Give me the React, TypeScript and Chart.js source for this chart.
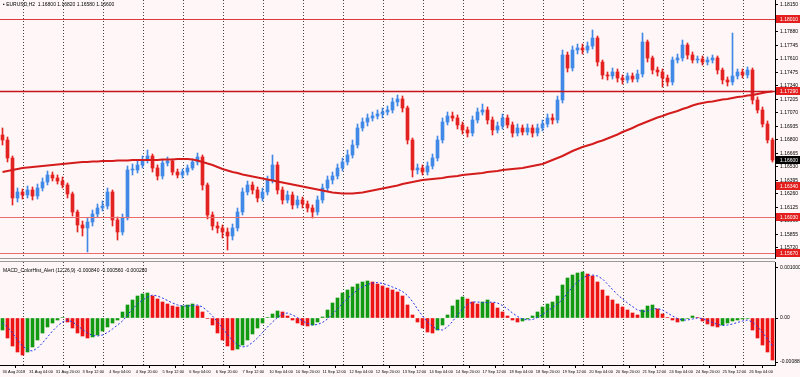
import React, { useEffect, useRef } from 'react';
import { Chart, registerables } from 'chart.js';

Chart.register(...registerables);

// ---------- data ----------
const symbolTitle = 'EURUSD,H2  1.16800 1.16820 1.16580 1.16600';
const macdTitle = 'MACD_ColorHist_Alert (12,26,9) -0.000840 -0.000560 -0.000280';
const firstOpen = 1.1685;
const HOURS_PER_BAR = 3;

const closes = [
  1.1680, 1.1662, 1.1622, 1.1628, 1.1625, 1.1630, 1.1624, 1.1632, 1.1638, 1.1645,
  1.1642, 1.1639, 1.1635, 1.1626, 1.1608, 1.1595, 1.1592, 1.1598, 1.1606, 1.1612,
  1.1614, 1.1628, 1.1600, 1.1588, 1.1602, 1.1650, 1.1650, 1.1655, 1.1660, 1.1664,
  1.1652, 1.1644, 1.1657, 1.1659, 1.1648, 1.1645, 1.1648, 1.1652, 1.1658, 1.1663,
  1.1635, 1.1605, 1.1594, 1.1592, 1.1588, 1.1584, 1.1592, 1.1608, 1.1628, 1.1635,
  1.1630, 1.1622, 1.1628, 1.1640, 1.1655, 1.1630, 1.1620, 1.1625, 1.1615, 1.1620,
  1.1616, 1.1612, 1.1608, 1.1620, 1.1632, 1.1640, 1.1644, 1.1652, 1.1658, 1.1665,
  1.1675, 1.1692, 1.1698, 1.1702, 1.1704, 1.1706, 1.1708, 1.1710, 1.1718, 1.1721,
  1.1712, 1.1680, 1.1650, 1.1652, 1.1648, 1.1654, 1.1662, 1.1680, 1.1698, 1.1704,
  1.1702, 1.1695, 1.1690, 1.1687, 1.1700, 1.1708, 1.1710, 1.1700, 1.1690, 1.1694,
  1.1702, 1.1695, 1.1687, 1.1692, 1.1688, 1.1692, 1.1687, 1.1692, 1.1696, 1.1702,
  1.1700, 1.1720, 1.1765, 1.1752, 1.1770, 1.1772, 1.1770, 1.1774, 1.1782, 1.1758,
  1.1745, 1.1744, 1.1748, 1.1742, 1.1740, 1.1744, 1.1741, 1.1746, 1.1778, 1.1762,
  1.1750, 1.1748, 1.1742, 1.1738, 1.1760, 1.1762, 1.1775, 1.1765, 1.1760, 1.1761,
  1.1758, 1.1760, 1.1762, 1.1750, 1.1740, 1.1738, 1.1744, 1.1748, 1.1745, 1.1750,
  1.1720, 1.1710, 1.1696, 1.1680, 1.1660,
];

const highs = [
  1.1692, 1.1683, 1.1664, 1.1632, 1.1631, 1.1634, 1.1633, 1.1636, 1.1642, 1.1649,
  1.1648, 1.1645, 1.1643, 1.1637, 1.1628, 1.1610, 1.1599, 1.1602, 1.1610, 1.1616,
  1.1619, 1.1632, 1.1630, 1.1603, 1.1606, 1.1654, 1.1656, 1.1659, 1.1664, 1.1670,
  1.1666, 1.1655, 1.1660, 1.1663, 1.1661, 1.1651, 1.1651, 1.1655, 1.1661, 1.1667,
  1.1665, 1.1637, 1.1608, 1.1598, 1.1595, 1.1592, 1.1596, 1.1612, 1.1632, 1.1639,
  1.1638, 1.1633, 1.1632, 1.1644, 1.1665, 1.1658, 1.1633, 1.1629, 1.1628, 1.1624,
  1.1623, 1.1619, 1.1615, 1.1624, 1.1636, 1.1644, 1.1648, 1.1656, 1.1662, 1.1670,
  1.1680, 1.1696, 1.1702, 1.1706, 1.1708, 1.1710, 1.1712, 1.1714, 1.1722, 1.1725,
  1.1724, 1.1714, 1.1682, 1.1656, 1.1655, 1.1658, 1.1666, 1.1684, 1.1702, 1.1708,
  1.1708, 1.1705, 1.1698, 1.1693, 1.1704, 1.1712, 1.1716, 1.1713, 1.1703, 1.1698,
  1.1706, 1.1705, 1.1698, 1.1696, 1.1695, 1.1696, 1.1695, 1.1696, 1.1700, 1.1706,
  1.1706, 1.1724, 1.1770, 1.1768, 1.1774, 1.1776, 1.1776, 1.1778, 1.1790, 1.1784,
  1.1760, 1.1748, 1.1752, 1.1751, 1.1745, 1.1747, 1.1747, 1.1750, 1.1787, 1.1780,
  1.1764, 1.1753, 1.1751, 1.1745, 1.1763, 1.1766, 1.1780, 1.1777, 1.1768, 1.1764,
  1.1764, 1.1763, 1.1765, 1.1764, 1.1752, 1.1743, 1.1787, 1.1751, 1.1751, 1.1753,
  1.1752, 1.1723, 1.1713, 1.1699, 1.1682,
];

const lows = [
  1.1675, 1.1658, 1.1615, 1.1618, 1.1621, 1.1622, 1.1620, 1.1621, 1.1629, 1.1635,
  1.1639, 1.1636, 1.1632, 1.1622, 1.1604, 1.1588, 1.1584, 1.1568, 1.1594, 1.1603,
  1.1609, 1.1611, 1.1594, 1.1580, 1.1585, 1.1600, 1.1645, 1.1647, 1.1652, 1.1657,
  1.1648, 1.1640, 1.1641, 1.1654, 1.1645, 1.1642, 1.1642, 1.1645, 1.1650, 1.1655,
  1.1630, 1.1601, 1.1590, 1.1587, 1.1582, 1.1570, 1.1580, 1.1589, 1.1605, 1.1625,
  1.1626, 1.1618, 1.1619, 1.1625, 1.1637, 1.1626, 1.1616, 1.1617, 1.1611, 1.1612,
  1.1612, 1.1608, 1.1602, 1.1605, 1.1617, 1.1629, 1.1636, 1.1641, 1.1649, 1.1655,
  1.1662, 1.1672, 1.1689, 1.1694, 1.1699, 1.1701, 1.1702, 1.1705, 1.1707, 1.1714,
  1.1708, 1.1676, 1.1643, 1.1646, 1.1645, 1.1645, 1.1651, 1.1659, 1.1677, 1.1695,
  1.1699, 1.1691, 1.1686, 1.1683, 1.1684, 1.1697, 1.1705, 1.1696, 1.1685, 1.1687,
  1.1691, 1.1692, 1.1683, 1.1684, 1.1685, 1.1685, 1.1683, 1.1684, 1.1689, 1.1693,
  1.1696, 1.1697, 1.1717, 1.1748, 1.1749, 1.1766, 1.1766, 1.1767, 1.1771, 1.1754,
  1.1741, 1.1740, 1.1741, 1.1738, 1.1736, 1.1737, 1.1738, 1.1738, 1.1743, 1.1758,
  1.1746, 1.1744, 1.1733, 1.1734, 1.1735, 1.1757, 1.1759, 1.1761, 1.1757, 1.1757,
  1.1755, 1.1755, 1.1757, 1.1746, 1.1736, 1.1734, 1.1735, 1.1741, 1.1742, 1.1742,
  1.1716, 1.1707, 1.1693, 1.1677, 1.1658,
];

const maValues = [
  1.1648, 1.1649, 1.1650, 1.1651, 1.1652, 1.16525, 1.1653, 1.16535, 1.1654, 1.16545,
  1.1655, 1.16555, 1.1656, 1.16565, 1.1657, 1.16575, 1.1658, 1.1658, 1.16585, 1.16585,
  1.1659, 1.1659, 1.1659, 1.16595, 1.16595, 1.16595, 1.1660, 1.1660, 1.1660, 1.1660,
  1.1660, 1.1660, 1.16605, 1.16605, 1.16605, 1.1661, 1.1661, 1.1661, 1.16605, 1.16595,
  1.1658, 1.16565, 1.1655, 1.1653, 1.1651, 1.16495, 1.1648, 1.1647, 1.16455, 1.16445,
  1.16435, 1.16425, 1.16415, 1.16405, 1.16395, 1.16385, 1.16375, 1.16365, 1.16355, 1.16345,
  1.16335, 1.16325, 1.16315, 1.16305, 1.16295, 1.16285, 1.16275, 1.1627, 1.16265, 1.16265,
  1.16265, 1.1627, 1.16275, 1.16285, 1.16295, 1.16305, 1.16315, 1.16325, 1.16335, 1.16345,
  1.1636, 1.1637, 1.1638, 1.1639, 1.1640, 1.16405, 1.1641, 1.16415, 1.1642, 1.1643,
  1.16435, 1.1644, 1.1645, 1.16455, 1.1646, 1.16465, 1.1647, 1.1648, 1.16485, 1.1649,
  1.1650, 1.16505, 1.1651, 1.16515, 1.1652, 1.1653, 1.1654, 1.1655, 1.1656, 1.1658,
  1.1660, 1.1662, 1.1664, 1.16665, 1.1669, 1.1671, 1.1673, 1.16745, 1.1676, 1.1678,
  1.16795, 1.16815, 1.16835, 1.16855, 1.1688, 1.1690, 1.1692, 1.16945, 1.16965, 1.16985,
  1.17005, 1.17025, 1.1704, 1.1706, 1.17075, 1.1709, 1.1711, 1.17125, 1.17145, 1.1716,
  1.1717, 1.1718, 1.17185, 1.17195, 1.17205, 1.1721, 1.1722, 1.1723, 1.17235, 1.17245,
  1.1725, 1.1726, 1.1727, 1.1728, 1.17285,
];

const macdHist = [
  -0.00024, -0.00040, -0.00056, -0.00068, -0.00074, -0.00068, -0.00058, -0.00044, -0.00030, -0.00018,
  -0.00010, -0.00004, 0.00001, -0.00008, -0.00020, -0.00030, -0.00036, -0.00040, -0.00038, -0.00034,
  -0.00026, -0.00018, -0.00010, -0.00004, 0.00012, 0.00026, 0.00036, 0.00044, 0.00048, 0.00050,
  0.00044, 0.00038, 0.00032, 0.00028, 0.00024, 0.00022, 0.00024, 0.00026, 0.00028, 0.00024,
  0.00012, -0.00001, -0.00014, -0.00030, -0.00044, -0.00056, -0.00064, -0.00062, -0.00054, -0.00044,
  -0.00032, -0.00020, -0.00010, 0.00001, 0.00008, 0.00014, 0.00012, 0.00004, -0.00004, -0.00010,
  -0.00014, -0.00016, -0.00014, -0.00008, 0.00002, 0.00016, 0.00030, 0.00040, 0.00050, 0.00056,
  0.00062, 0.00068, 0.00072, 0.00074, 0.00072, 0.00068, 0.00064, 0.00060, 0.00056, 0.00052,
  0.00044, 0.00026, 0.00006, -0.00008, -0.00020, -0.00028, -0.00030, -0.00024, -0.00014, 0.00006,
  0.00024, 0.00036, 0.00042, 0.00038, 0.00032, 0.00028, 0.00032, 0.00036, 0.00030, 0.00020,
  0.00012, 0.00004, -0.00004, -0.00008, -0.00006, -0.00002, 0.00004, 0.00012, 0.00022, 0.00028,
  0.00032, 0.00044, 0.00066, 0.00080, 0.00086, 0.00090, 0.00092, 0.00088, 0.00084, 0.00072,
  0.00056, 0.00044, 0.00036, 0.00028, 0.00022, 0.00016, 0.00010, 0.00006, 0.00016, 0.00024,
  0.00026, 0.00018, 0.00008, 0.00001, -0.00004, -0.00008, -0.00006, -0.00001, 0.00004, 0.00001,
  -0.00006, -0.00012, -0.00016, -0.00018, -0.00014, -0.00010, -0.00006, -0.00004, -0.00002, -0.00001,
  -0.00024, -0.00040, -0.00054, -0.00068, -0.00084,
];

const macdSignal = [
  -0.00010, -0.00018, -0.00030, -0.00044, -0.00056, -0.00064, -0.00066, -0.00060, -0.00050, -0.00038,
  -0.00026, -0.00016, -0.00008, -0.00004, -0.00008, -0.00015, -0.00023, -0.00030, -0.00035, -0.00036,
  -0.00034, -0.00029, -0.00022, -0.00014, -0.00006, 0.00006, 0.00018, 0.00028, 0.00036, 0.00042,
  0.00046, 0.00044, 0.00040, 0.00035, 0.00030, 0.00026, 0.00024, 0.00024, 0.00025, 0.00026,
  0.00022, 0.00014, 0.00004, -0.00008, -0.00020, -0.00033, -0.00045, -0.00054, -0.00058, -0.00056,
  -0.00049, -0.00040, -0.00029, -0.00018, -0.00008, 0.00001, 0.00008, 0.00010, 0.00006, 0.00001,
  -0.00006, -0.00011, -0.00014, -0.00013, -0.00009, -0.00002, 0.00008, 0.00018, 0.00029, 0.00039,
  0.00048, 0.00056, 0.00062, 0.00067, 0.00070, 0.00071, 0.00069, 0.00066, 0.00062, 0.00058,
  0.00053, 0.00045, 0.00033, 0.00018, 0.00004, -0.00008, -0.00017, -0.00023, -0.00024, -0.00018,
  -0.00007, 0.00006, 0.00018, 0.00027, 0.00032, 0.00032, 0.00031, 0.00031, 0.00032, 0.00030,
  0.00025, 0.00018, 0.00010, 0.00003, -0.00002, -0.00004, -0.00003, 0.00001, 0.00007, 0.00014,
  0.00021, 0.00028, 0.00037, 0.00050, 0.00062, 0.00072, 0.00080, 0.00085, 0.00086, 0.00084,
  0.00078, 0.00068, 0.00057, 0.00047, 0.00038, 0.00030, 0.00023, 0.00016, 0.00013, 0.00014,
  0.00018, 0.00019, 0.00016, 0.00010, 0.00004, -0.00001, -0.00004, -0.00004, -0.00002, 0.00000,
  -0.00001, -0.00005, -0.00009, -0.00013, -0.00015, -0.00014, -0.00012, -0.00009, -0.00006, -0.00004,
  -0.00008, -0.00017, -0.00029, -0.00042, -0.00056,
];

const timeLabels = [
  '30 Aug 2018', '31 Aug 04:00', '31 Aug 20:00', '3 Sep 12:00', '4 Sep 04:00', '4 Sep 20:00',
  '5 Sep 12:00', '6 Sep 04:00', '6 Sep 20:00', '7 Sep 12:00', '10 Sep 04:00', '10 Sep 20:00',
  '11 Sep 12:00', '12 Sep 04:00', '12 Sep 20:00', '13 Sep 12:00', '14 Sep 04:00', '14 Sep 20:00',
  '17 Sep 12:00', '18 Sep 04:00', '18 Sep 20:00', '19 Sep 12:00', '20 Sep 04:00', '20 Sep 20:00',
  '21 Sep 12:00', '24 Sep 04:00', '24 Sep 20:00', '25 Sep 12:00', '26 Sep 04:00',
];
const labelStepHours = 16;
const firstMidnightHour = 12;
const dayCount = 19;

const priceTicks = [
  1.18150, 1.18015, 1.17880, 1.17745, 1.17610, 1.17475, 1.17340, 1.17205, 1.17070, 1.16935,
  1.16800, 1.16665, 1.16530, 1.16395, 1.16260, 1.16125, 1.15990, 1.15855, 1.15720,
];
const priceMin = 1.1561;
const priceMax = 1.1820;

const levelLines = [
  { price: 1.1801, color: '#e03a3a', width: 1 },
  { price: 1.1729, color: '#c8141e', width: 1.5 },
  { price: 1.1603, color: '#ec6c6c', width: 1 },
  { price: 1.1567, color: '#ec6c6c', width: 1 },
];
const levelLabels = [1.1801, 1.1729, 1.1634, 1.1603, 1.1567];
const currentPrice = 1.1660;

const macdTicks = [0.001, 0, -0.00088];
const macdMin = -0.00094;
const macdMax = 0.00112;

// ---------- styles ----------
const BG = '#fff7f7';
const UP = '#4189e6';
const DOWN = '#e32222';
const HIST_UP = '#119a11';
const HIST_DOWN = '#ec1414';
const FONT = '"Liberation Sans Narrow", "Liberation Sans", Arial, sans-serif';

const xMin = -HOURS_PER_BAR / 2;
const xMax = (closes.length - 1) * HOURS_PER_BAR + HOURS_PER_BAR / 2;
const barHours = closes.map((_, i) => i * HOURS_PER_BAR);
const separatorHours = Array.from({ length: dayCount }, (_, k) => firstMidnightHour + 24 * k);

const bgPlugin = {
  id: 'bg',
  beforeDraw(chart: any) {
    const { ctx, width, height } = chart;
    ctx.save();
    ctx.fillStyle = BG;
    ctx.fillRect(0, 0, width, height);
    ctx.restore();
  },
};

const separatorsPlugin = {
  id: 'separators',
  beforeDatasetsDraw(chart: any) {
    const { ctx, chartArea, scales } = chart;
    ctx.save();
    ctx.strokeStyle = '#444';
    ctx.lineWidth = 1;
    ctx.setLineDash([1, 2]);
    for (const h of separatorHours) {
      const px = Math.round(scales.x.getPixelForValue(h)) + 0.5;
      ctx.beginPath();
      ctx.moveTo(px, chartArea.top);
      ctx.lineTo(px, chartArea.bottom);
      ctx.stroke();
    }
    ctx.restore();
  },
};

const levelsPlugin = {
  id: 'levels',
  afterDatasetsDraw(chart: any) {
    const { ctx, chartArea, scales } = chart;
    ctx.save();
    for (const l of levelLines) {
      const py = Math.round(scales.y.getPixelForValue(l.price)) + 0.5;
      ctx.strokeStyle = l.color;
      ctx.lineWidth = l.width;
      ctx.beginPath();
      ctx.moveTo(chartArea.left, py);
      ctx.lineTo(chartArea.right, py);
      ctx.stroke();
    }
    ctx.strokeStyle = '#9a9a9a';
    ctx.lineWidth = 1;
    ctx.beginPath();
    ctx.moveTo(0, chartArea.bottom - 0.5);
    ctx.lineTo(chartArea.right, chartArea.bottom - 0.5);
    ctx.stroke();
    ctx.restore();
  },
  afterDraw(chart: any) {
    const { ctx, chartArea, scales, width } = chart;
    const x0 = chartArea.right + 1;
    ctx.save();
    ctx.font = '5px ' + FONT;
    ctx.textBaseline = 'middle';
    const box = (v: number, fill: string) => {
      const py = Math.round(scales.y.getPixelForValue(v));
      ctx.fillStyle = fill;
      ctx.fillRect(x0, py - 4, width - x0, 8);
      ctx.fillStyle = '#fff';
      ctx.fillText(v.toFixed(5), x0 + 4, py + 0.5);
    };
    for (const v of levelLabels) box(v, '#e41d1d');
    box(currentPrice, '#000');
    ctx.fillStyle = '#000';
    ctx.font = '5px ' + FONT;
    ctx.fillText('\u25AA ' + symbolTitle, 3, 5);
    ctx.restore();
  },
};

const macdTextPlugin = {
  id: 'macdText',
  afterDraw(chart: any) {
    const { ctx, chartArea } = chart;
    ctx.save();
    ctx.strokeStyle = '#9a9a9a';
    ctx.lineWidth = 1;
    ctx.beginPath();
    ctx.moveTo(0, chartArea.top - 0.5);
    ctx.lineTo(chartArea.right, chartArea.top - 0.5);
    ctx.stroke();
    ctx.fillStyle = '#000';
    ctx.font = '5px ' + FONT;
    ctx.textBaseline = 'middle';
    ctx.fillText(macdTitle, 3, chartArea.top + 9);
    ctx.restore();
  },
};

const fixYAxis = (s: any) => {
  s.width = 25;
  s.paddingTop = 0;
  s.paddingBottom = 0;
};

export default function App() {
  const topRef = useRef<HTMLCanvasElement | null>(null);
  const botRef = useRef<HTMLCanvasElement | null>(null);

  useEffect(() => {
    document.body.style.margin = '0';
    const opens = closes.map((c, i) => (i === 0 ? firstOpen : closes[i - 1]));
    const candleColors = closes.map((c, i) => (c >= opens[i] ? UP : DOWN));
    const histColors = macdHist.map((v, i) => (i === 0 || v >= macdHist[i - 1] ? HIST_UP : HIST_DOWN));

    const top = new Chart(topRef.current as HTMLCanvasElement, {
      type: 'bar',
      data: {
        datasets: [
          {
            type: 'line',
            data: barHours.map((x, i) => ({ x, y: maValues[i] })),
            borderColor: '#d41c1c',
            borderWidth: 2,
            pointRadius: 0,
            tension: 0,
            order: 0,
          } as any,
          {
            type: 'bar',
            data: barHours.map((x, i) => ({ x, y: [opens[i], closes[i]] })),
            backgroundColor: candleColors,
            barThickness: 3,
            minBarLength: 1,
            grouped: false,
            order: 1,
          } as any,
          {
            type: 'bar',
            data: barHours.map((x, i) => ({ x, y: [lows[i], highs[i]] })),
            backgroundColor: candleColors,
            barThickness: 1,
            grouped: false,
            order: 2,
          } as any,
        ],
      },
      options: {
        animation: false,
        responsive: false,
        maintainAspectRatio: false,
        layout: { padding: 0 },
        plugins: { legend: { display: false }, tooltip: { enabled: false } },
        scales: {
          x: { type: 'linear', min: xMin, max: xMax, offset: false, display: false },
          y: {
            type: 'linear',
            position: 'right',
            min: priceMin,
            max: priceMax,
            beginAtZero: false,
            afterBuildTicks: (s: any) => {
              s.ticks = priceTicks.map((v) => ({ value: v }));
            },
            afterFit: fixYAxis,
            ticks: {
              autoSkip: false,
              padding: 2,
              color: '#000',
              font: { size: 5, family: FONT },
              callback: (v: any) => Number(v).toFixed(5),
            },
            grid: { drawOnChartArea: false, tickLength: 3, color: '#000' },
            border: { color: '#000' },
          },
        },
      } as any,
      plugins: [bgPlugin, separatorsPlugin, levelsPlugin],
    });

    const bot = new Chart(botRef.current as HTMLCanvasElement, {
      type: 'bar',
      data: {
        datasets: [
          {
            type: 'line',
            data: barHours.map((x, i) => ({ x, y: macdSignal[i] })),
            borderColor: '#2233ee',
            borderWidth: 1,
            borderDash: [2, 2],
            pointRadius: 0,
            tension: 0,
            order: 0,
          } as any,
          {
            type: 'bar',
            data: barHours.map((x, i) => ({ x, y: macdHist[i] })),
            backgroundColor: histColors,
            barThickness: 3,
            grouped: false,
            order: 1,
          } as any,
        ],
      },
      options: {
        animation: false,
        responsive: false,
        maintainAspectRatio: false,
        layout: { padding: { top: 3, left: 0, right: 0, bottom: 0 } },
        plugins: { legend: { display: false }, tooltip: { enabled: false } },
        scales: {
          x: {
            type: 'linear',
            min: xMin,
            max: xMax,
            offset: false,
            afterBuildTicks: (s: any) => {
              s.ticks = timeLabels.map((_, k) => ({ value: k * labelStepHours }));
            },
            afterFit: (s: any) => {
              s.height = 12;
              s.paddingLeft = 0;
              s.paddingRight = 0;
            },
            ticks: {
              autoSkip: false,
              maxRotation: 0,
              minRotation: 0,
              align: 'start',
              padding: 1,
              color: '#000',
              font: { size: 4, family: FONT },
              callback: (_v: any, idx: number) => timeLabels[idx],
            },
            grid: { drawOnChartArea: false, tickLength: 3, color: '#000' },
            border: { color: '#000' },
          },
          y: {
            type: 'linear',
            position: 'right',
            min: macdMin,
            max: macdMax,
            beginAtZero: false,
            afterBuildTicks: (s: any) => {
              s.ticks = macdTicks.map((v) => ({ value: v }));
            },
            afterFit: fixYAxis,
            ticks: {
              autoSkip: false,
              padding: 2,
              color: '#000',
              font: { size: 5, family: FONT },
              callback: (v: any) => (Number(v) === 0 ? '0.00' : Number(v).toFixed(6)),
            },
            grid: { drawOnChartArea: false, tickLength: 3, color: '#000' },
            border: { color: '#000' },
          },
        },
      } as any,
      plugins: [bgPlugin, separatorsPlugin, macdTextPlugin],
    });

    return () => {
      top.destroy();
      bot.destroy();
    };
  }, []);

  return (
    <div style={{ width: 800, height: 377, background: BG, overflow: 'hidden' }}>
      <canvas ref={topRef} width={800} height={259} style={{ display: 'block', width: 800, height: 259 }} />
      <canvas ref={botRef} width={800} height={118} style={{ display: 'block', width: 800, height: 118 }} />
    </div>
  );
}
